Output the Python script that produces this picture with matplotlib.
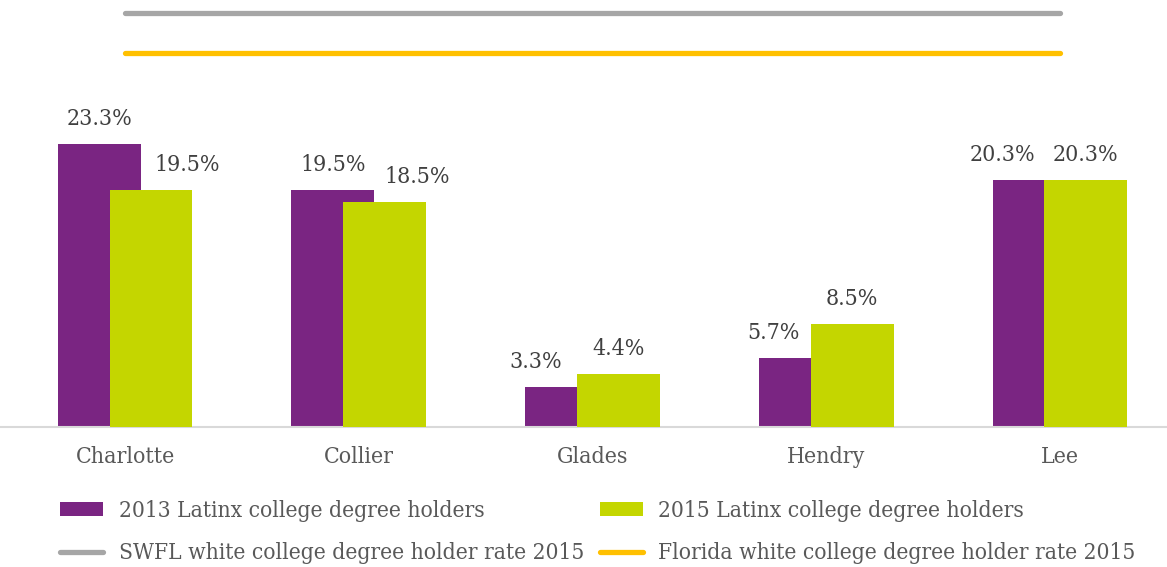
import matplotlib
matplotlib.use("Agg")
from matplotlib import pyplot as plt
import numpy as np

plt.rcParams['font.family'] = ['DejaVu Serif']
plt.rcParams['font.stretch'] = 'condensed'

counties = ["Charlotte", "Collier", "Glades", "Hendry", "Lee"]
latinx_2013 = [23.3, 19.5, 3.3, 5.7, 20.3]
latinx_2015 = [19.5, 18.5, 4.4, 8.5, 20.3]
swfl_white_2015 = [34.1, 34.1, 34.1, 34.1, 34.1]
florida_white_2015 = [30.8, 30.8, 30.8, 30.8, 30.8]

# hand-placed label nudges (pixels) so neighbouring labels don't collide
shift_2013 = [0, 0, -31, -27, -32]
shift_2015 = [36, 32, 0, 0, 0]

PURPLE = "#7A2582"
GREEN = "#C4D600"
GREY = "#A6A6A6"
GOLD = "#FFC000"
TEXT = "#595959"

fig = plt.figure(figsize=(11.67, 5.67), dpi=100)
ax = fig.add_axes([0, 1 - 427 / 567, 1, 427 / 567])

x = np.arange(len(counties))
width = 0.355
offset = 0.111

bars13 = ax.bar(x - offset, latinx_2013, width, color=PURPLE, zorder=2)
bars15 = ax.bar(x + offset, latinx_2015, width, color=GREEN, zorder=3)
line_swfl, = ax.plot(x, swfl_white_2015, color=GREY, lw=3.8, solid_capstyle="round", zorder=4)
line_fl, = ax.plot(x, florida_white_2015, color=GOLD, lw=3.8, solid_capstyle="round", zorder=4)

for bars, vals, shifts in [(bars13, latinx_2013, shift_2013), (bars15, latinx_2015, shift_2015)]:
    for b, v, s in zip(bars, vals, shifts):
        ax.annotate("{:.1f}%".format(v), (b.get_x() + b.get_width() / 2, v),
                    xytext=(s, 25), textcoords="offset pixels",
                    ha="center", va="center", fontsize=16.6, color="#404040", zorder=5)

ax.set_xlim(-0.535, 4.458)
ax.set_ylim(0, 35.16)
ax.set_xticks(x)
ax.set_xticklabels(counties, fontsize=16.6, color=TEXT)
ax.tick_params(axis="x", length=0, pad=14)
ax.set_yticks([])
for side in ["top", "left", "right"]:
    ax.spines[side].set_visible(False)
ax.spines["bottom"].set_color("#D9D9D9")
ax.spines["bottom"].set_linewidth(1.5)

handles = [bars13, line_swfl, bars15, line_fl]
labels = ["2013 Latinx college degree holders", "SWFL white college degree holder rate 2015",
          "2015 Latinx college degree holders", "Florida white college degree holder rate 2015"]
leg = fig.legend(handles, labels, ncol=2, loc="upper left", bbox_to_anchor=(60 / 1167, 1 - 500 / 567),
                 frameon=False, fontsize=16.3, handlelength=1.9, handleheight=0.6,
                 handletextpad=0.7, columnspacing=0.68, labelspacing=0.9,
                 borderpad=0, borderaxespad=0)
for t in leg.get_texts():
    t.set_color(TEXT)

fig.savefig("out.png", dpi=100)
